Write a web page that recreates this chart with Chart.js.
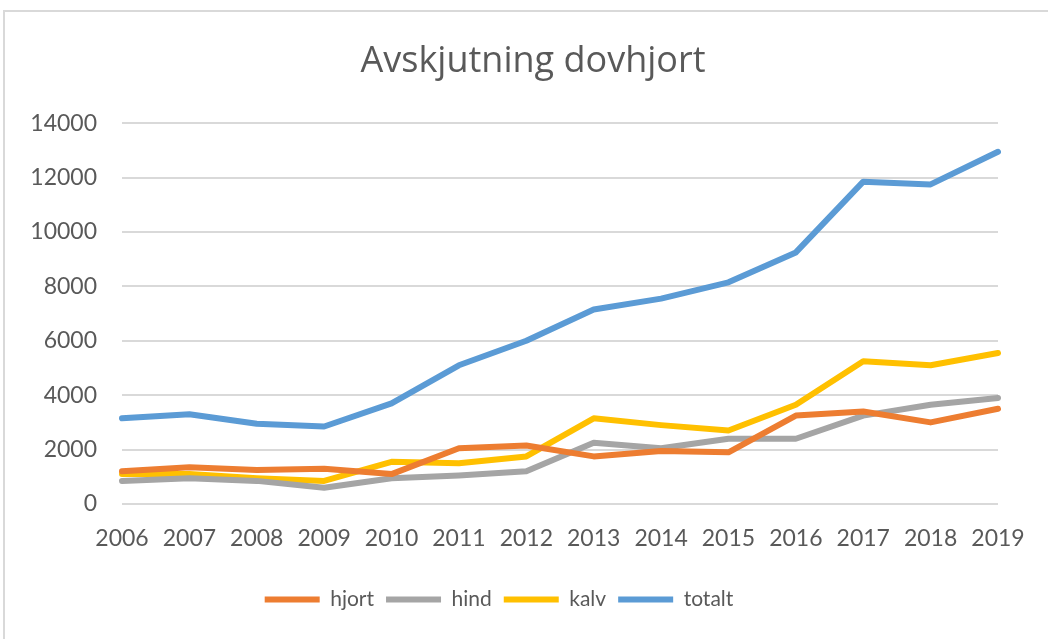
<!DOCTYPE html>
<html>
<head>
<meta charset="utf-8">
<script src="https://cdn.jsdelivr.net/npm/chart.js@4.4.0/dist/chart.umd.min.js"></script>
<style>
  html, body { margin: 0; padding: 0; background: #fff; overflow: hidden; }
  #frame { position: absolute; left: 3px; top: 10px; width: 1100px; height: 700px; border: 2px solid #d9d9d9; }
  #wrap { position: absolute; left: 0; top: 0; width: 1048px; height: 639px; }
</style>
</head>
<body>
<div id="frame"></div>
<div id="wrap"><canvas id="myChart"></canvas></div>
<script>
const years = ["2006", "2007", "2008", "2009", "2010", "2011", "2012", "2013", "2014", "2015", "2016", "2017", "2018", "2019"];
const hjort = [1200, 1350, 1250, 1300, 1100, 2050, 2150, 1750, 1950, 1900, 3250, 3400, 3000, 3500];
const hind = [850, 950, 850, 600, 950, 1050, 1200, 2250, 2050, 2400, 2400, 3250, 3650, 3900];
const kalv = [1100, 1100, 950, 850, 1550, 1500, 1750, 3150, 2900, 2700, 3650, 5250, 5100, 5550];
const totalt = [3150, 3300, 2950, 2850, 3700, 5100, 6000, 7150, 7550, 8150, 9250, 11850, 11750, 12950];

const textColor = "#595959";
const font = "Lato, 'Open Sans', sans-serif";

function series(label, values, color) {
  return {
    label: label,
    data: values,
    borderColor: color,
    backgroundColor: color,
    borderWidth: 6,
    pointRadius: 0,
    pointHoverRadius: 0,
    tension: 0,
    fill: false,
    borderCapStyle: "round",
    borderJoinStyle: "round",
  };
}

// title in the original sits a bit right of the canvas centre
const titleShift = {
  id: "titleShift",
  afterLayout(chart) {
    chart.titleBlock.left += 34;
    chart.titleBlock.right += 34;
  },
};

const ctx = document.getElementById("myChart");

new Chart(ctx, {
  type: "line",
  data: {
    labels: years,
    datasets: [
      series("hjort", hjort, "#ED7D31"),
      series("hind", hind, "#A5A5A5"),
      series("kalv", kalv, "#FFC000"),
      series("totalt", totalt, "#5B9BD5"),
    ],
  },
  plugins: [titleShift],
  options: {
    responsive: true,
    maintainAspectRatio: false,
    animation: false,
    layout: {
      padding: { left: 0, right: 50, top: 0, bottom: 19 },
    },
    plugins: {
      title: {
        display: true,
        text: "Avskjutning dovhjort",
        color: textColor,
        font: { family: "'Open Sans', Lato, sans-serif", size: 36, weight: "normal" },
        padding: { top: 40, bottom: 40 },
      },
      legend: {
        position: "bottom",
        labels: {
          color: textColor,
          font: { family: font, size: 21 },
          usePointStyle: true,
          pointStyle: "line",
          pointStyleWidth: 55,
          padding: 12,
        },
      },
      tooltip: { enabled: false },
    },
    scales: {
      x: {
        offset: false,
        grid: { display: false },
        border: { display: false },
        ticks: {
          color: textColor,
          font: { family: font, size: 23 },
          padding: 13,
          maxRotation: 0,
          autoSkip: false,
        },
        afterFit: function (scale) {
          scale.height = 73;
        },
      },
      y: {
        min: 0,
        max: 14000,
        grid: { color: "#d9d9d9", lineWidth: 2, drawTicks: false },
        border: { display: false },
        ticks: {
          stepSize: 2000,
          color: textColor,
          font: { family: font, size: 23 },
          padding: 25,
          callback: (v) => String(v),
        },
        afterFit: function (scale) {
          scale.width = 122;
        },
      },
    },
  },
});
</script>
</body>
</html>
